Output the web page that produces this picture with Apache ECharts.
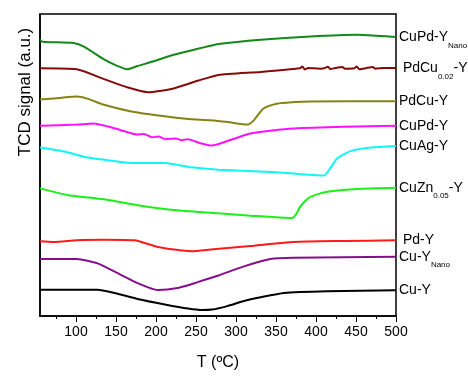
<!DOCTYPE html>
<html>
<head>
<meta charset="utf-8">
<script src="https://cdn.jsdelivr.net/npm/echarts@6/dist/echarts.min.js"></script>
<style>
  html, body { margin: 0; padding: 0; background: #fff; }
  #chart { width: 468px; height: 376px; }
</style>
</head>
<body>
<div id="chart"></div>
<script>
// --- data: [T (°C), TCD signal (a.u., offset for stacking)] ---
const majorTicks = [100, 150, 200, 250, 300, 350, 400, 450, 500];
const minorTicks = [75, 125, 175, 225, 275, 325, 375, 425, 475];

const cuPdNano = [[55, 280], [58, 278], [97, 276.7], [110, 273], [135, 260], [150, 254], [164, 250], [177, 253.3], [198, 258.3], [219, 264], [240, 268.3], [262, 272.7], [278, 275.7], [331, 280], [393, 283.3], [452, 285], [475, 284], [500, 282.7]];
const pdCu002 = [[55, 251], [101, 250], [135, 240], [164, 231.7], [190, 226.7], [219, 230], [252, 238.3], [278, 244.3], [331, 247.3], [380, 251], [383, 252.8], [386, 249.8], [390, 251.3], [406, 250.6], [410, 251], [415, 252.6], [418, 250.2], [424, 251.3], [433, 252.4], [436, 250.6], [448, 251], [451, 252.8], [454, 250], [462, 251], [471, 252.4], [474, 250.6], [485, 251.4], [500, 251.3]];
const pdCu = [[55, 219.3], [80, 221], [101, 222.3], [115, 220], [135, 214], [169, 207.3], [211, 202.3], [240, 199.5], [268, 198.3], [290, 196.5], [314, 194], [322, 198], [334, 210], [351, 215], [370, 216.5], [393, 217.3], [500, 217.7]];
const cuPd = [[55, 192.7], [101, 194], [122, 195], [140, 192], [156, 188.3], [177, 183.8], [185, 184.3], [195, 181.2], [203, 181.8], [212, 179.2], [225, 179.8], [232, 178.2], [240, 179.2], [248, 177.2], [258, 174.5], [269, 172.7], [281, 175], [293, 178.3], [318, 185], [345, 188], [372, 190], [435, 191.7], [500, 192.7]];
const cuAg = [[55, 170.7], [85, 166.7], [114, 160.7], [135, 158.3], [169, 155], [211, 155], [244, 150.7], [278, 148.3], [351, 145.7], [410, 142.3], [418, 150], [427, 160], [444, 167.3], [469, 170.7], [500, 172.3]];
const cuZn005 = [[55, 129.3], [89, 122.7], [135, 118.3], [177, 112.3], [219, 107.7], [278, 104], [318, 101.7], [370, 99.3], [375, 103], [381, 111.7], [393, 120.7], [414, 126], [456, 129], [500, 130]];
const pdY = [[55, 75.7], [72, 75], [101, 76.8], [135, 77.3], [173, 76.7], [202, 70], [244, 65.7], [268, 67.3], [318, 71], [372, 75], [435, 76], [500, 76.7]];
const cuNano = [[55, 57.7], [101, 57.7], [127, 53.3], [156, 41.7], [177, 33.3], [202, 26.3], [227, 28.3], [252, 34.3], [278, 41], [309, 50], [343, 57.7], [372, 59], [500, 60]];
const cuY = [[55, 26.7], [127, 26.7], [148, 23.3], [177, 17.3], [211, 11.7], [240, 7.5], [258, 6], [270, 6.5], [289, 10], [309, 15], [331, 19], [360, 23.3], [414, 25], [500, 26]];

const seriesDefs = [
  { name: 'CuPd-Y Nano', data: cuPdNano, color: '#15881a', label: '{m|CuPd-Y}{s|Nano}' },
  { name: 'PdCu0.02-Y', data: pdCu002, color: '#860a0a', label: '{m| PdCu}{s|0.02}{m|-Y}' },
  { name: 'PdCu-Y', data: pdCu, color: '#878214', label: '{m|PdCu-Y}' },
  { name: 'CuPd-Y', data: cuPd, color: '#ff10ff', label: '{m|CuPd-Y}' },
  { name: 'CuAg-Y', data: cuAg, color: '#10f5f5', label: '{m|CuAg-Y}' },
  { name: 'CuZn0.05-Y', data: cuZn005, color: '#1af01a', label: '{m|CuZn}{s|0.05}{m|-Y}' },
  { name: 'Pd-Y', data: pdY, color: '#ff1a1a', label: '{m| Pd-Y}' },
  { name: 'Cu-Y Nano', data: cuNano, color: '#850f8a', label: '{m|Cu-Y}{s|Nano}' },
  { name: 'Cu-Y', data: cuY, color: '#000000', label: '{m|Cu-Y}' }
];

const font = "'Liberation Sans', Arial, sans-serif";

const chart = echarts.init(document.getElementById('chart'), null, { renderer: 'canvas' });

const series = seriesDefs.map(d => ({
  name: d.name,
  type: 'line',
  data: d.data,
  xAxisIndex: 0,
  showSymbol: false,
  smooth: 0.2,
  lineStyle: { color: d.color, width: 2 },
  itemStyle: { color: d.color },
  endLabel: {
    show: true,
    distance: 3,
    formatter: () => d.label,
    color: '#000',
    rich: {
      m: { fontSize: 14, fontFamily: font, color: '#000' },
      s: { fontSize: 8, fontFamily: font, color: '#000', padding: [17, 0, 0, 0] }
    }
  },
  animation: false
}));

const option = {
  animation: false,
  grid: {
    left: 40, right: 72, top: 14, bottom: 56,
    show: true, borderColor: '#000', borderWidth: 1.5
  },
  xAxis: [
    {
      type: 'value', min: 55, max: 500, position: 'bottom',
      name: 'T (ºC)', nameLocation: 'middle', nameGap: 39,
      nameTextStyle: { fontSize: 16, fontFamily: font, color: '#000' },
      axisLine: { show: true, lineStyle: { color: '#000', width: 1.5 } },
      axisTick: { show: true, customValues: majorTicks, length: 6, lineStyle: { color: '#000', width: 1 } },
      axisLabel: { customValues: majorTicks, fontSize: 14, fontFamily: font, color: '#000', margin: 9 },
      splitLine: { show: false }
    },
    {
      type: 'value', min: 55, max: 500, position: 'bottom', offset: 0,
      axisLine: { show: false },
      axisTick: { show: true, customValues: minorTicks, length: 3, lineStyle: { color: '#000', width: 1 } },
      axisLabel: { show: false },
      splitLine: { show: false }
    }
  ],
  yAxis: {
    type: 'value', min: 0, max: 306,
    axisLine: { show: true, lineStyle: { color: '#000', width: 1.5 } },
    axisTick: { show: false },
    axisLabel: { show: false },
    splitLine: { show: false }
  },
  graphic: [{
    type: 'text',
    x: 25, y: 92,
    rotation: Math.PI / 2,
    style: {
      text: 'TCD signal (a.u.)',
      fontSize: 17,
      fontFamily: font,
      fill: '#000',
      align: 'center',
      verticalAlign: 'middle'
    }
  }],
  series: series
};

chart.setOption(option);
</script>
</body>
</html>
